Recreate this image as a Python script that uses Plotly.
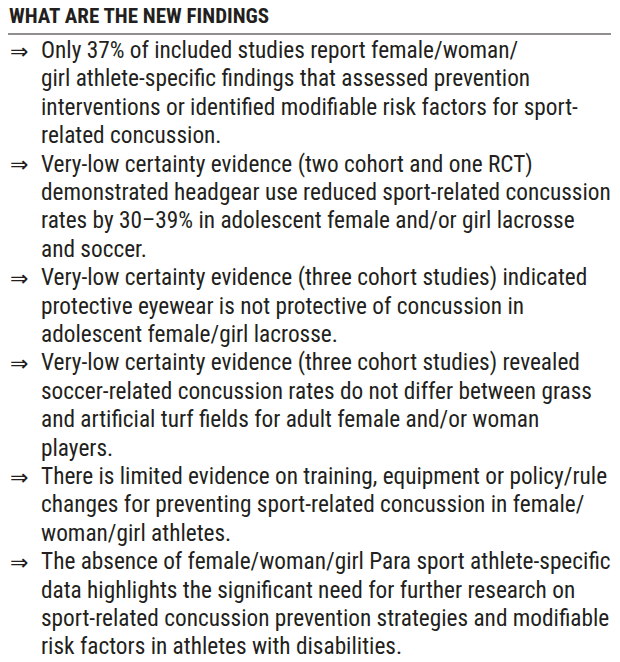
import plotly.graph_objects as go

title = "WHAT ARE THE NEW FINDINGS"

finding_1 = [
    "Only 37% of included studies report female/woman/",
    "girl athlete-specific findings that assessed prevention",
    "interventions or identified modifiable risk factors for sport-",
    "related concussion.",
]
finding_2 = [
    "Very-low certainty evidence (two cohort and one RCT)",
    "demonstrated headgear use reduced sport-related concussion",
    "rates by 30\u201339% in adolescent female and/or girl lacrosse",
    "and soccer.",
]
finding_3 = [
    "Very-low certainty evidence (three cohort studies) indicated",
    "protective eyewear is not protective of concussion in",
    "adolescent female/girl lacrosse.",
]
finding_4 = [
    "Very-low certainty evidence (three cohort studies) revealed",
    "soccer-related concussion rates do not differ between grass",
    "and artificial turf fields for adult female and/or woman",
    "players.",
]
finding_5 = [
    "There is limited evidence on training, equipment or policy/rule",
    "changes for preventing sport-related concussion in female/",
    "woman/girl athletes.",
]
finding_6 = [
    "The absence of female/woman/girl Para sport athlete-specific",
    "data highlights the significant need for further research on",
    "sport-related concussion prevention strategies and modifiable",
    "risk factors in athletes with disabilities.",
]
findings = [finding_1, finding_2, finding_3, finding_4, finding_5, finding_6]

W, H = 620, 662
FONT = "Roboto Condensed, Liberation Sans Narrow, sans-serif"
TXT = "#231f20"

fig = go.Figure()

# title + rule under it
fig.add_annotation(x=7, y=16, text="<b>" + title + "</b>", showarrow=False,
                   xanchor="left", yanchor="middle",
                   font=dict(family=FONT, size=21, color=TXT))
fig.add_shape(type="line", x0=8, x1=611, y0=34, y1=34,
              line=dict(color=TXT, width=1.2))

# bullets, one annotation per line
y = 50
step = 28.4
for lines in findings:
    fig.add_annotation(x=8, y=y + 1, text="\u21d2", showarrow=False,
                       xanchor="left", yanchor="middle",
                       font=dict(family="DejaVu Sans", size=22, color=TXT))
    for line in lines:
        fig.add_annotation(x=39, y=y, text=line, showarrow=False,
                           xanchor="left", yanchor="middle",
                           font=dict(family=FONT, size=23.3, color=TXT))
        y += step

fig.update_xaxes(range=[0, W], visible=False)
fig.update_yaxes(range=[H, 0], visible=False)
fig.update_layout(width=W, height=H, margin=dict(l=0, r=0, t=0, b=0),
                  plot_bgcolor="white", paper_bgcolor="white",
                  showlegend=False)

# drop the default 8px body margin so the figure sits flush in the window
fig.write_html("out.html", config={"displayModeBar": False},
               post_script="document.body.style.margin='0';")
